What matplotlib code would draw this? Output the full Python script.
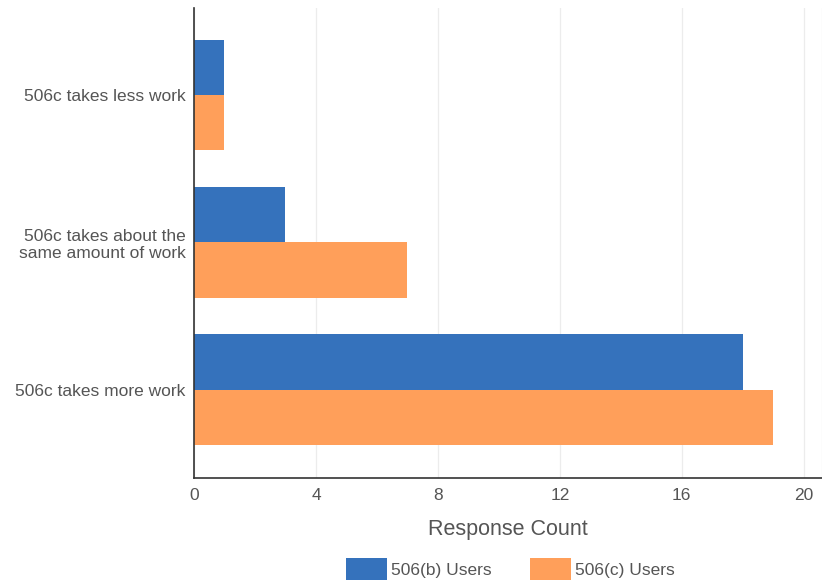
import numpy as np
import matplotlib
matplotlib.use("Agg")
import matplotlib.pyplot as plt
from matplotlib.patches import Patch

CATEGORIES = ["506c takes less work",
              "506c takes about the\nsame amount of work",
              "506c takes more work"]
B_USERS = [1, 3, 18]
C_USERS = [1, 7, 19]
SERIES = ["506(b) Users", "506(c) Users"]
XTICKS = [0, 4, 8, 12, 16, 20]

BLUE = "#3572bc"
ORANGE = "#ff9f5a"
TXT = "#555555"

plt.rcParams["font.family"] = ["Liberation Sans", "DejaVu Sans"]

fig = plt.figure(figsize=(8.22, 5.84), dpi=100)
ax = fig.add_axes([194 / 822, 1 - 478 / 584, 1 - 194 / 822, (478 - 8) / 584])

y = np.arange(len(CATEGORIES))
h = 0.375
ax.barh(y - h / 2, B_USERS, height=h, color=BLUE, label=SERIES[0], zorder=2)
ax.barh(y + h / 2, C_USERS, height=h, color=ORANGE, label=SERIES[1], zorder=2)

ax.set_ylim(2.6, -0.59)
ax.set_xlim(0, 20.6)
ax.set_yticks(y)
ax.set_yticklabels(CATEGORIES, color=TXT, fontsize=12.5, linespacing=1.2)
ax.set_xticks(XTICKS)
ax.set_xticklabels([str(t) for t in XTICKS], color=TXT, fontsize=12.5)
ax.tick_params(axis="y", length=0, pad=6)
ax.tick_params(axis="x", length=0, pad=7)
ax.grid(axis="x", color="#ececec", lw=0.9, zorder=0)
ax.axvline(20.6, color="#ececec", lw=0.9, zorder=0)
for s in ["top", "right"]:
    ax.spines[s].set_visible(False)
for s in ["left", "bottom"]:
    ax.spines[s].set_color("#333333")
    ax.spines[s].set_linewidth(1.2)

ax.set_xlabel("Response Count", color=TXT, fontsize=15.5, labelpad=12)

handles = [Patch(facecolor=BLUE, label=SERIES[0]), Patch(facecolor=ORANGE, label=SERIES[1])]
fig.legend(handles=handles, loc="center", bbox_to_anchor=(510 / 822, 1 - 569 / 584),
           ncol=2, frameon=False, fontsize=12.5, handlelength=2.4, handleheight=1.6,
           handletextpad=0.2, columnspacing=2.2, labelcolor=TXT)

fig.savefig("out.png", dpi=100, facecolor="white")
